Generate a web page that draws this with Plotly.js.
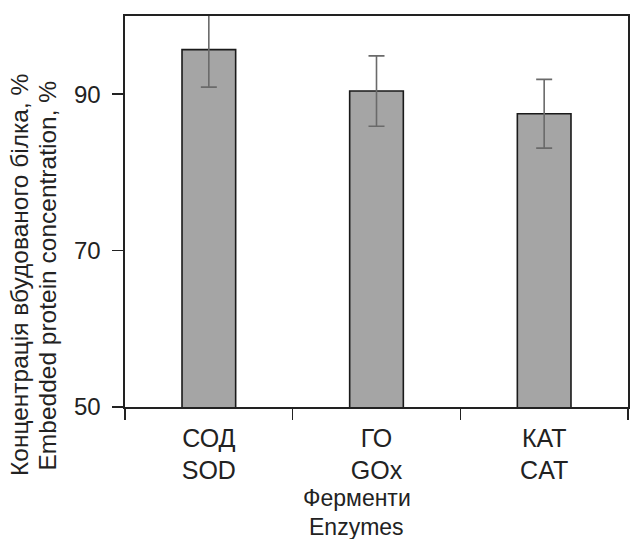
<!DOCTYPE html>
<html>
<head>
<meta charset="utf-8">
<script src="https://cdn.plot.ly/plotly-3.0.1.min.js"></script>
<style>html,body{margin:0;padding:0;background:#fff;}#chart{width:630px;height:539px;}</style>
</head>
<body>
<div id="chart"></div>
<script>
const categories = ["СОД<br>SOD", "ГО<br>GOx", "КАТ<br>CAT"];
const values = [95.7, 90.4, 87.5];
const errors = [4.8, 4.5, 4.4];
const yTickVals = [50, 70, 90];
const yTitleLines = ["Концентрація вбудованого білка, %", "Embedded protein concentration, %"];
const xTitleLines = ["Ферменти", "Enzymes"];

const trace = {
  type: "bar",
  x: categories,
  y: values,
  width: 0.32,
  marker: {color: "#a5a5a5", line: {color: "#1a1a1a", width: 1.6}},
  error_y: {type: "data", array: errors, visible: true, color: "#6a6a6a", thickness: 1.6, width: 8}
};

const layout = {
  width: 630, height: 539,
  margin: {l: 125, r: 2, t: 16, b: 132},
  paper_bgcolor: "#fff", plot_bgcolor: "#fff",
  showlegend: false,
  font: {family: "Liberation Sans, Arial, sans-serif", color: "#222"},
  xaxis: {
    type: "category",
    range: [-0.5, 2.5],
    tickson: "boundaries",
    ticks: "outside", ticklen: 11, tickwidth: 1.6, tickcolor: "#222",
    ticklabelstandoff: 8,
    showline: true, linecolor: "#222", linewidth: 1.6, mirror: true,
    showgrid: false, zeroline: false,
    tickfont: {size: 25, color: "#222"}
  },
  yaxis: {
    range: [50, 100],
    tickvals: yTickVals,
    ticktext: yTickVals.map(String),
    ticks: "outside", ticklen: 11, tickwidth: 1.6, tickcolor: "#222",
    ticklabelstandoff: 7,
    showline: true, linecolor: "#222", linewidth: 1.6, mirror: true,
    showgrid: false, zeroline: false,
    tickfont: {size: 24, color: "#222"}
  },
  annotations: [
    {text: yTitleLines[0], xref: "paper", yref: "paper", x: -0.2087, y: 0.3376,
     xanchor: "center", yanchor: "middle", textangle: -90, showarrow: false,
     font: {size: 24.5, color: "#222"}},
    {text: yTitleLines[1], xref: "paper", yref: "paper", x: -0.1531, y: 0.3363,
     xanchor: "center", yanchor: "middle", textangle: -90, showarrow: false,
     font: {size: 24.5, color: "#222"}},
    {text: xTitleLines[0], xref: "paper", yref: "paper", x: 0.461, y: -0.2327,
     xanchor: "center", yanchor: "middle", showarrow: false,
     font: {size: 23, color: "#222"}},
    {text: xTitleLines[1], xref: "paper", yref: "paper", x: 0.461, y: -0.3069,
     xanchor: "center", yanchor: "middle", showarrow: false,
     font: {size: 23, color: "#222"}}
  ]
};

Plotly.newPlot("chart", [trace], layout, {displayModeBar: false, staticPlot: true});
</script>
</body>
</html>
